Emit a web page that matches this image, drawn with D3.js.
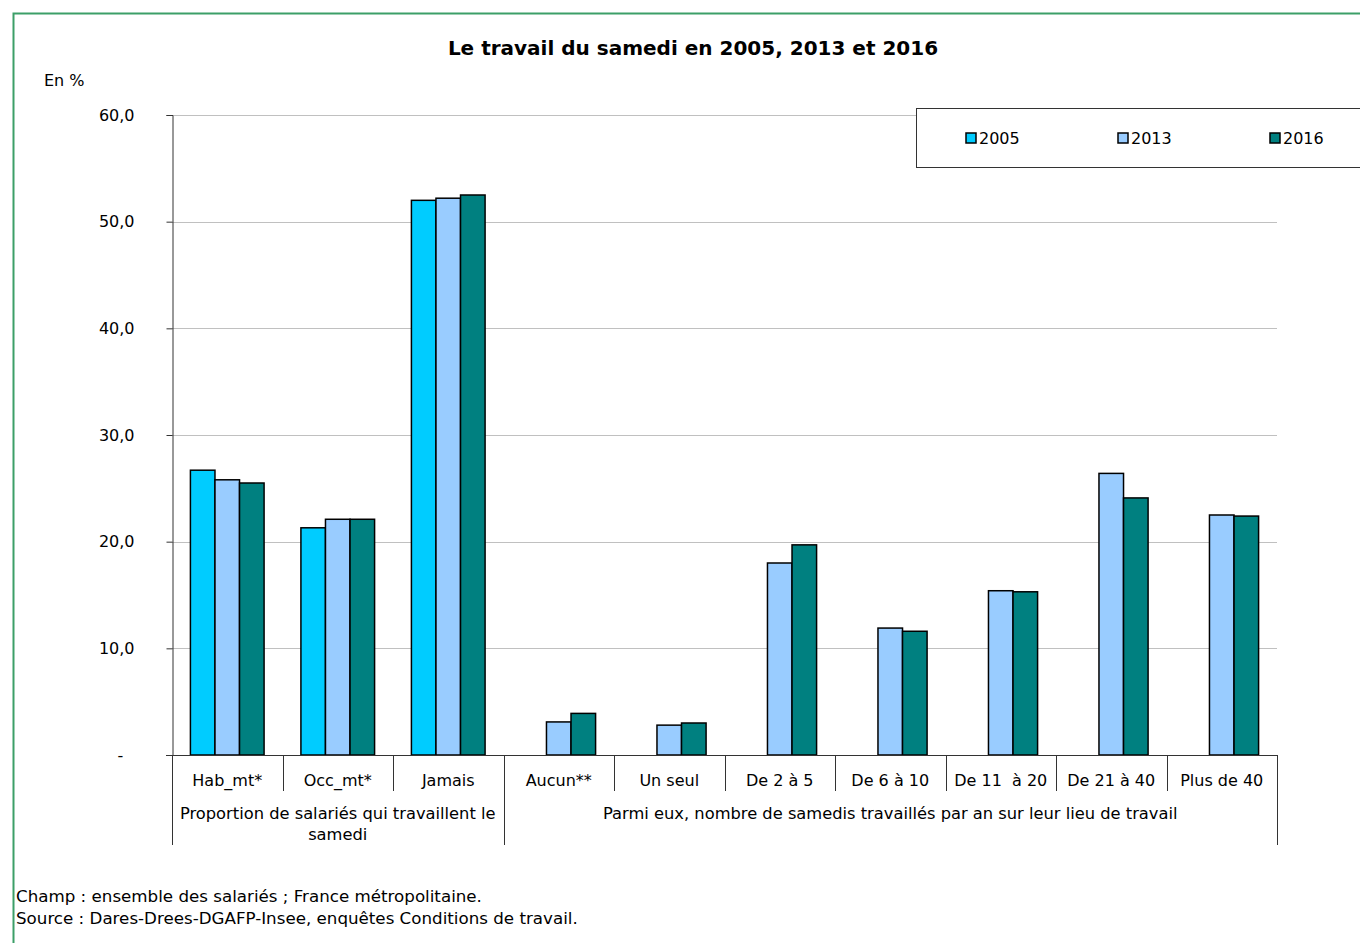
<!DOCTYPE html>
<html>
<head>
<meta charset="utf-8">
<script src="https://cdn.jsdelivr.net/npm/d3@7"></script>
<style>
  body { margin: 0; background: #fff; }
  svg text { font-family: Verdana, "DejaVu Sans", sans-serif; fill: #000; }
</style>
</head>
<body>
<div id="chart"></div>
<script>
var categories = ["Hab_mt*", "Occ_mt*", "Jamais", "Aucun**", "Un seul", "De 2 à 5", "De 6 à 10", "De 11  à 20", "De 21 à 40", "Plus de 40"];
var series = ["2005", "2013", "2016"];
var values2005 = [26.7, 21.3, 52.0, null, null, null, null, null, null, null];
var values2013 = [25.8, 22.1, 52.2, 3.1, 2.8, 18.0, 11.9, 15.4, 26.4, 22.5];
var values2016 = [25.5, 22.1, 52.5, 3.9, 3.0, 19.7, 11.6, 15.3, 24.1, 22.4];
var groupLabels = [["Proportion de salariés qui travaillent le", "samedi"],
                   ["Parmi eux, nombre de samedis travaillés par an sur leur lieu de travail"]];
var groupSizes = [3, 7];
var yTicks = [0, 10, 20, 30, 40, 50, 60];
var colors = ["#00ccff", "#99ccff", "#008080"];

var width = 1360, height = 943,
    plotLeft = 172, plotRight = 1277, plotTop = 115, plotBottom = 755,
    fs = "16px";

var svg = d3.select("#chart").append("svg")
  .attr("width", width)
  .attr("height", height);

// cadre vert
svg.append("rect")
  .attr("x", 13.5).attr("y", 13.5)
  .attr("width", width + 20).attr("height", height + 20)
  .attr("fill", "none")
  .attr("stroke", "#3c9f68")
  .attr("stroke-width", 2);

var x0 = d3.scaleBand().domain(categories).range([plotLeft, plotRight]);
var x1 = d3.scaleBand().domain(series).range([0, x0.bandwidth()]).paddingOuter(0.75);
var y = d3.scaleLinear().domain([0, 60]).range([plotBottom, plotTop]);

// grille
svg.append("g").selectAll("line")
  .data(yTicks.filter(function(d){ return d > 0; }))
  .enter().append("line")
  .attr("x1", plotLeft).attr("x2", plotRight)
  .attr("y1", function(d){ return Math.round(y(d)) + 0.5; })
  .attr("y2", function(d){ return Math.round(y(d)) + 0.5; })
  .attr("stroke", "#c0c0c0")
  .attr("stroke-width", 1);

// axe y
var yAxis = svg.append("g")
  .attr("transform", "translate(" + (plotLeft + 0.5) + ",0)")
  .call(d3.axisLeft(y).tickValues(yTicks).tickSize(6).tickPadding(32)
    .tickFormat(function(d){ return d === 0 ? "-" : d3.format(".1f")(d).replace(".", ","); }));
yAxis.select(".domain").attr("stroke", "#333");
yAxis.selectAll(".tick line").attr("stroke", "#333");
yAxis.selectAll("text").style("font-size", fs).style("font-family", null).attr("fill", "#000");
yAxis.selectAll(".tick").filter(function(d){ return d === 0; }).select("text")
  .attr("x", -52).attr("text-anchor", "middle");

// barres
var data = categories.map(function(c, i) {
  return { cat: c, vals: [values2005[i], values2013[i], values2016[i]] };
});

var grp = svg.append("g").selectAll("g")
  .data(data)
  .enter().append("g")
  .attr("transform", function(d){ return "translate(" + x0(d.cat) + ",0)"; });

grp.selectAll("rect")
  .data(function(d){ return d.vals.map(function(v, j){ return { s: series[j], v: v, j: j }; })
                     .filter(function(e){ return e.v != null; }); })
  .enter().append("rect")
  .attr("x", function(d){ return x1(d.s); })
  .attr("width", x1.bandwidth())
  .attr("y", function(d){ return y(d.v); })
  .attr("height", function(d){ return y(0) - y(d.v); })
  .attr("fill", function(d){ return colors[d.j]; })
  .attr("stroke", "#000")
  .attr("stroke-width", 1.5);

// axe x
svg.append("line")
  .attr("x1", plotLeft - 6).attr("x2", plotRight)
  .attr("y1", plotBottom + 0.5).attr("y2", plotBottom + 0.5)
  .attr("stroke", "#333");

var bounds = [plotLeft];
categories.forEach(function(c){ bounds.push(x0(c) + x0.bandwidth()); });
var groupBounds = [0];
groupSizes.forEach(function(n, i){ groupBounds.push(groupBounds[i] + n); });

svg.append("g").selectAll("line")
  .data(bounds)
  .enter().append("line")
  .attr("x1", function(d){ return Math.round(d) + 0.5; })
  .attr("x2", function(d){ return Math.round(d) + 0.5; })
  .attr("y1", plotBottom)
  .attr("y2", function(d, i){ return groupBounds.indexOf(i) >= 0 ? 845 : 791; })
  .attr("stroke", "#333");

svg.append("g").selectAll("text")
  .data(categories)
  .enter().append("text")
  .attr("x", function(d){ return x0(d) + x0.bandwidth() / 2; })
  .attr("y", 786)
  .attr("text-anchor", "middle")
  .style("font-size", fs)
  .style("white-space", "pre")
  .text(function(d){ return d; });

groupLabels.forEach(function(lines, i) {
  var cx = (bounds[groupBounds[i]] + bounds[groupBounds[i + 1]]) / 2;
  svg.append("g").selectAll("text")
    .data(lines)
    .enter().append("text")
    .attr("x", cx)
    .attr("y", function(d, k){ return 819 + k * 21; })
    .attr("text-anchor", "middle")
    .style("font-size", "16.3px")
    .text(function(d){ return d; });
});

// titre
svg.append("text")
  .attr("x", 693).attr("y", 55)
  .attr("text-anchor", "middle")
  .style("font-size", "20px")
  .style("font-weight", "bold")
  .text("Le travail du samedi en 2005, 2013 et 2016");

svg.append("text")
  .attr("x", 44).attr("y", 86)
  .style("font-size", fs)
  .text("En %");

// légende
svg.append("rect")
  .attr("x", 916.5).attr("y", 108.5)
  .attr("width", 460).attr("height", 59)
  .attr("fill", "#fff")
  .attr("stroke", "#333");

var leg = svg.append("g").selectAll("g")
  .data(series)
  .enter().append("g")
  .attr("transform", function(d, i){ return "translate(" + (966 + i * 152) + ",133)"; });
leg.append("rect")
  .attr("width", 10).attr("height", 10)
  .attr("fill", function(d, i){ return colors[i]; })
  .attr("stroke", "#000")
  .attr("stroke-width", 1.5);
leg.append("text")
  .attr("x", 13).attr("y", 11)
  .style("font-size", fs)
  .text(function(d){ return d; });

// notes
var notes = ["Champ : ensemble des salariés ; France métropolitaine.",
             "Source : Dares-Drees-DGAFP-Insee, enquêtes Conditions de travail."];
svg.append("g").selectAll("text")
  .data(notes)
  .enter().append("text")
  .attr("x", 16)
  .attr("y", function(d, i){ return 902 + i * 22; })
  .style("font-size", "16.7px")
  .text(function(d){ return d; });
</script>
</body>
</html>
